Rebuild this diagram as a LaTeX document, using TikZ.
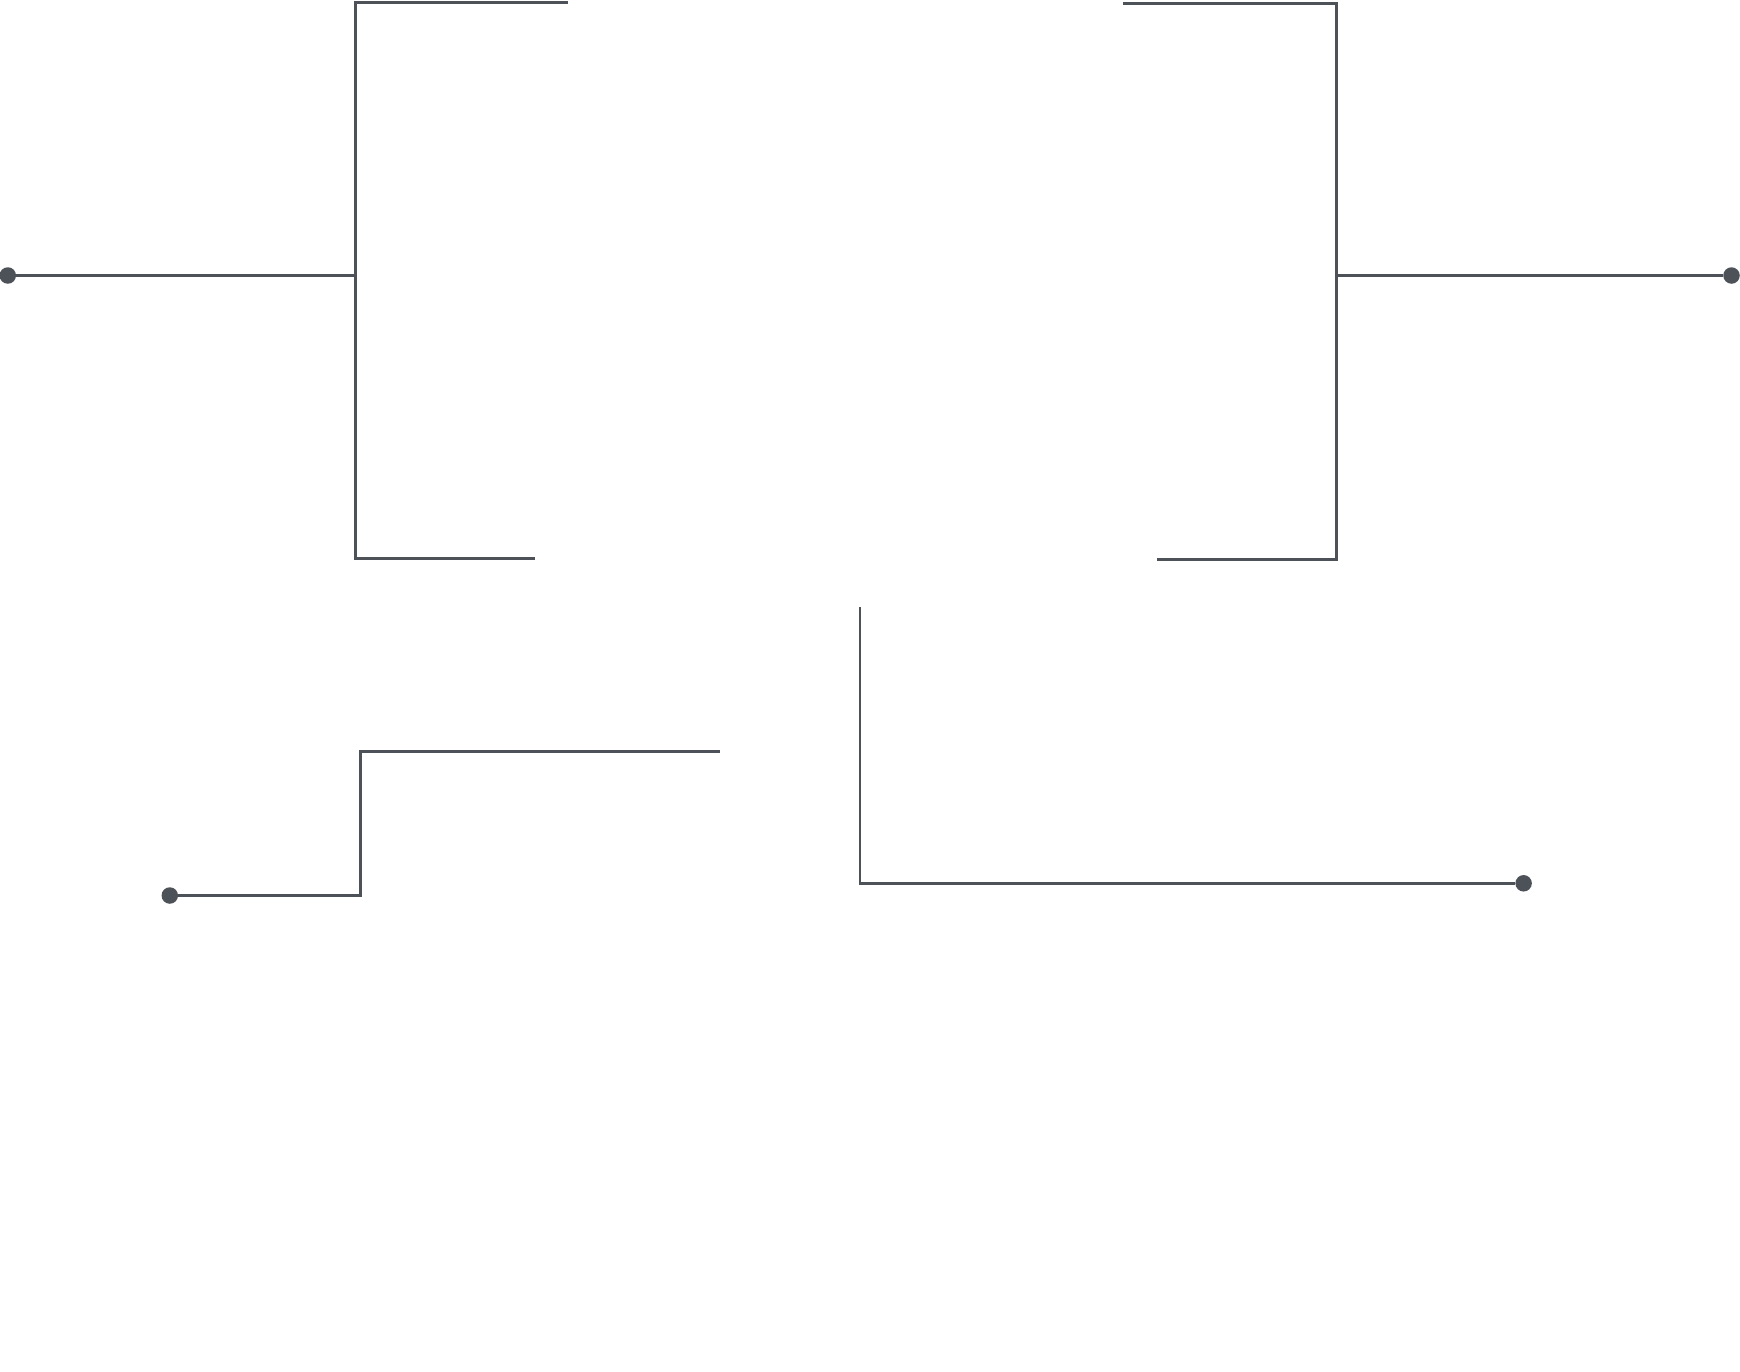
\documentclass[tikz,border=0pt]{standalone}
\definecolor{wire}{HTML}{4D5259}
\begin{document}
\begin{tikzpicture}[x=1pt,y=-1pt,
  wireline/.style={draw=wire,line width=2.8pt,line cap=butt,line join=miter},
  terminal/.style={circle,fill=wire,inner sep=0pt,minimum size=16.5pt}]
\useasboundingbox (0,0) rectangle (1740,1371);
% left bracket
\node[terminal] (inL) at (7.8,275.5) {};
\coordinate (lTopEnd) at (568.2,2.6);
\coordinate (lTop) at (355.1,2.6);
\coordinate (lMid) at (355.1,275.5);
\coordinate (lBot) at (355.1,558.2);
\coordinate (lBotEnd) at (534.9,558.2);
\draw[wireline] (lTopEnd) -- (lTop) -- (lBot) -- (lBotEnd);
\draw[wireline] (inL) -- (lMid);
% right bracket
\node[terminal] (outR) at (1731.5,275.5) {};
\coordinate (rTopEnd) at (1123.0,3.3);
\coordinate (rTop) at (1336.1,3.3);
\coordinate (rMid) at (1336.1,275.5);
\coordinate (rBot) at (1336.1,559.3);
\coordinate (rBotEnd) at (1157.4,559.3);
\draw[wireline] (rTopEnd) -- (rTop) -- (rBot) -- (rBotEnd);
\draw[wireline] (rMid) -- (outR);
% lower left step
\node[terminal] (inB) at (169.8,895.5) {};
\coordinate (sLow) at (360.7,895.5);
\coordinate (sHigh) at (360.7,751.3);
\coordinate (sEnd) at (720.2,751.3);
\draw[wireline] (inB) -- (sLow) -- (sHigh) -- (sEnd);
% lower right L
\node[terminal] (outB) at (1523.6,883.3) {};
\coordinate (vTop) at (860.0,607.0);
\coordinate (vCorner) at (860.0,883.3);
\draw[wireline] (vTop) -- (vCorner) -- (outB);
\end{tikzpicture}
\end{document}
